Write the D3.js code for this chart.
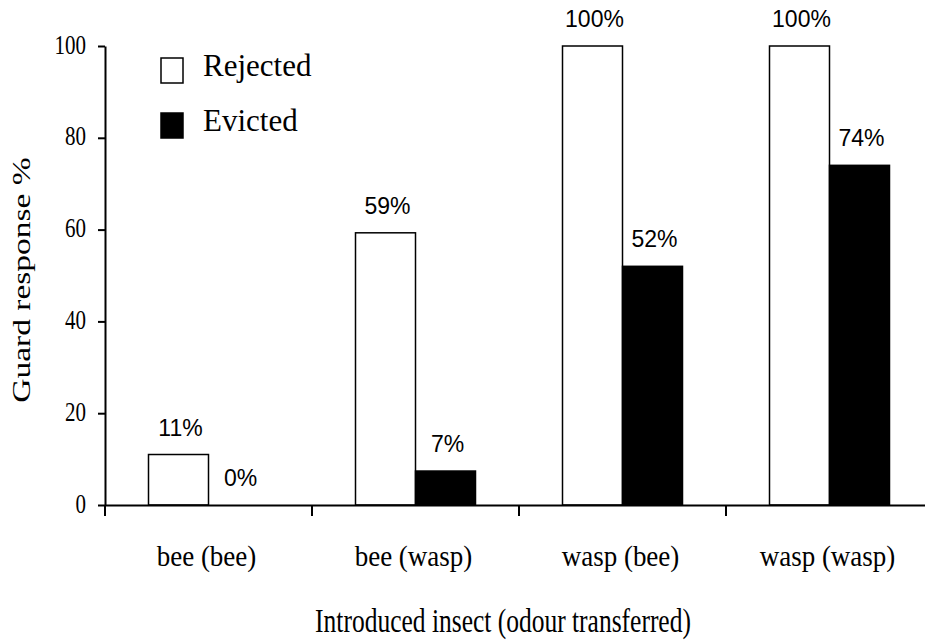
<!DOCTYPE html>
<html>
<head>
<meta charset="utf-8">
<script src="https://cdn.jsdelivr.net/npm/d3@7"></script>
<style>
  body { margin: 0; background: #fff; }
  svg { display: block; }
  .serif { font-family: "Liberation Serif", "Times New Roman", serif; fill: #000; }
  .pct { font-family: "Liberation Sans", Arial, sans-serif; font-size: 23px; fill: #000; }
</style>
</head>
<body>
<div id="chart"></div>
<script>
const categories = ['bee (bee)', 'bee (wasp)', 'wasp (bee)', 'wasp (wasp)'];
const seriesNames = ['Rejected', 'Evicted'];
const rejected = [11, 59.3, 100, 100];
const evicted = [0, 7.4, 52, 74];
const rejectedLabels = ['11%', '59%', '100%', '100%'];
const evictedLabels = ['0%', '7%', '52%', '74%'];
const yTicks = [0, 20, 40, 60, 80, 100];

const W = 925, H = 643;
const margin = {top: 46, right: -8, bottom: 138, left: 105};
const width = W - margin.left - margin.right;
const height = H - margin.top - margin.bottom;

const svg = d3.select('#chart')
  .append('svg')
  .attr('width', W)
  .attr('height', H);

const g = svg.append('g')
  .attr('transform', `translate(${margin.left},${margin.top})`);

const x0 = d3.scaleBand().domain(categories).range([0, width]).padding(0);
const barW = 60;
const x1 = d3.scaleBand().domain(seriesNames)
  .range([x0.bandwidth() / 2 - barW, x0.bandwidth() / 2 + barW]);
const y = d3.scaleLinear().domain([0, 100]).range([height, 0]);
const fills = d3.scaleOrdinal().domain(seriesNames).range(['#fff', '#000']);

const rows = categories.map((c, i) => ({
  cat: c,
  vals: [
    {s: 'Rejected', v: rejected[i], label: rejectedLabels[i]},
    {s: 'Evicted', v: evicted[i], label: evictedLabels[i]}
  ]
}));

// bars
const groups = g.selectAll('.grp')
  .data(rows)
  .enter()
  .append('g')
  .attr('transform', d => `translate(${x0(d.cat)},0)`);

groups.selectAll('rect')
  .data(d => d.vals.filter(v => v.v > 0))
  .enter()
  .append('rect')
  .attr('x', d => x1(d.s))
  .attr('y', d => y(d.v))
  .attr('width', x1.bandwidth())
  .attr('height', d => y(0) - y(d.v))
  .attr('fill', d => fills(d.s))
  .attr('stroke', '#000')
  .attr('stroke-width', 1.5);

groups.selectAll('text')
  .data(d => d.vals)
  .enter()
  .append('text')
  .attr('class', 'pct')
  .attr('x', d => x1(d.s) + x1.bandwidth() / 2 + 2)
  .attr('y', d => y(d.v) - 19)
  .attr('text-anchor', 'middle')
  .text(d => d.label);

// y axis
const yAxis = g.append('g')
  .call(d3.axisLeft(y).tickValues(yTicks).tickSize(7).tickPadding(12).tickSizeOuter(0));
yAxis.select('.domain').attr('stroke-width', 2);
yAxis.selectAll('.tick line').attr('stroke-width', 2);
yAxis.selectAll('.tick text').remove();
yAxis.selectAll('.tick')
  .append('text')
  .attr('class', 'serif')
  .attr('text-anchor', 'end')
  .attr('font-size', 21)
  .attr('transform', 'translate(-19,7) scale(1,1.35)')
  .text(d => d);

// x axis
const xAxis = g.append('g')
  .attr('transform', `translate(0,${height})`)
  .call(d3.axisBottom(x0).tickSize(0).tickSizeOuter(0));
xAxis.select('.domain').attr('stroke-width', 2);
xAxis.selectAll('.tick text').remove();
xAxis.selectAll('.tick')
  .append('text')
  .attr('class', 'serif')
  .attr('text-anchor', 'middle')
  .attr('font-size', 27)
  .attr('transform', 'translate(-2,61) scale(1,1.08)')
  .text(d => d);
// boundary ticks between categories
g.append('g')
  .selectAll('line')
  .data(categories)
  .enter()
  .append('line')
  .attr('x1', d => x0(d))
  .attr('x2', d => x0(d))
  .attr('y1', height)
  .attr('y2', height + 11)
  .attr('stroke', '#000')
  .attr('stroke-width', 2);

// axis titles
svg.append('text')
  .attr('class', 'serif')
  .attr('font-size', 25)
  .attr('text-anchor', 'middle')
  .attr('transform', 'translate(30,280) rotate(-90) scale(1.34,1)')
  .text('Guard response %');

svg.append('text')
  .attr('class', 'serif')
  .attr('font-size', 25.5)
  .attr('text-anchor', 'middle')
  .attr('transform', 'translate(503,632) scale(1,1.3)')
  .text('Introduced insect (odour transferred)');

// legend
const legend = svg.append('g')
  .attr('transform', 'translate(161,58)')
  .selectAll('.legend')
  .data(seriesNames)
  .enter()
  .append('g')
  .attr('transform', (d, i) => `translate(0,${i * 55})`);

legend.append('rect')
  .attr('width', 22)
  .attr('height', 25)
  .attr('fill', d => fills(d))
  .attr('stroke', '#000')
  .attr('stroke-width', 1.5);

legend.append('text')
  .attr('class', 'serif')
  .attr('font-size', 31)
  .attr('x', 42)
  .attr('y', 18)
  .text(d => d);
</script>
</body>
</html>
